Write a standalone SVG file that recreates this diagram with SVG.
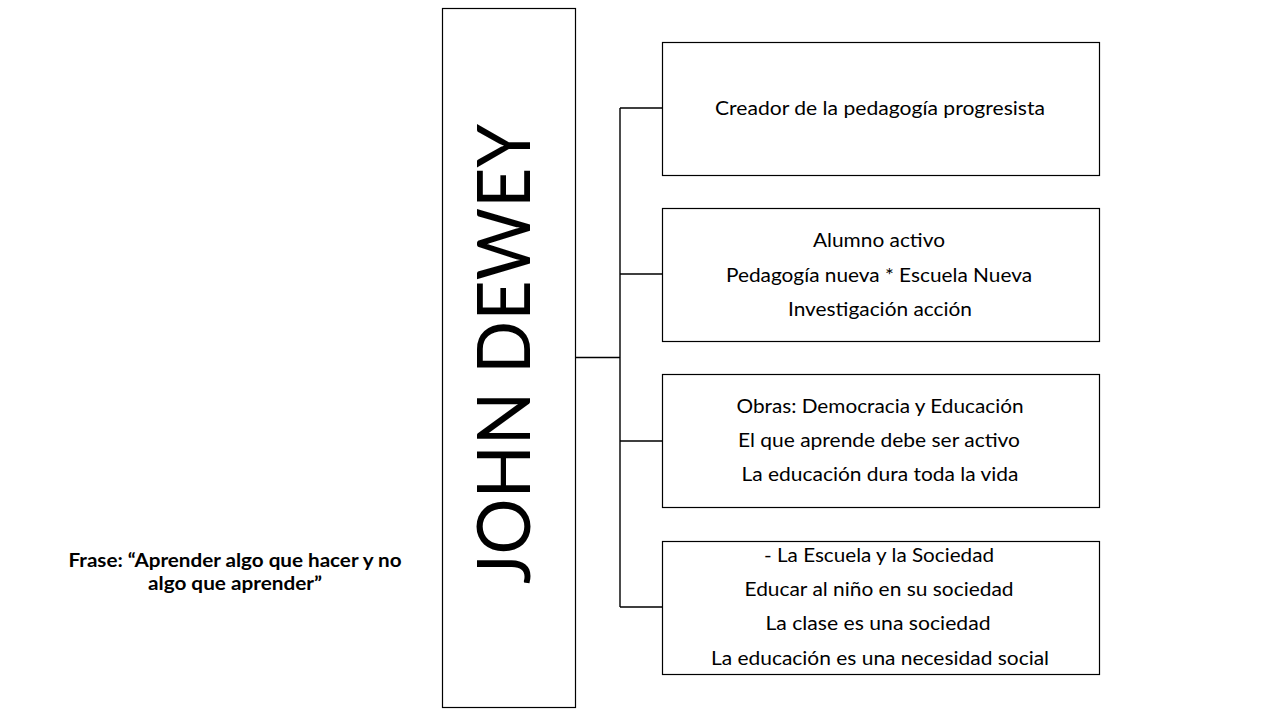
<svg xmlns="http://www.w3.org/2000/svg" width="1280" height="720" viewBox="0 0 1280 720">
<style>
.box{fill:#fff;stroke:#000;stroke-width:1.2}
.t{font-family:Lato,"Open Sans","Liberation Sans",sans-serif;font-size:19.5px;fill:#000;text-anchor:middle}
.b{font-family:Lato,"Open Sans","Liberation Sans",sans-serif;font-size:19px;font-weight:bold;fill:#000;text-anchor:middle}
.c{fill:none;stroke:#000;stroke-width:1.4}
</style>
<rect width="1280" height="720" fill="#fff"/>
<g id="connectors">
<path class="c" d="M576 357.5H620M620 108V607M620 108H662M620 274H662M620 441H662M620 607H662"/>
</g>
<g id="main">
<rect class="box" x="442.5" y="8.5" width="133" height="699"/>
<text transform="translate(530 354) rotate(-90)" x="0" y="0" font-family="Lato,'Open Sans','Liberation Sans',sans-serif" font-size="74" text-anchor="middle" textLength="460" lengthAdjust="spacingAndGlyphs">JOHN DEWEY</text>
</g>
<g id="n1">
<rect class="box" x="662.5" y="42.5" width="437" height="133"/>
<text class="t" x="880" y="115" textLength="330" lengthAdjust="spacingAndGlyphs">Creador de la pedagogía progresista</text>
</g>
<g id="n2">
<rect class="box" x="662.5" y="208.5" width="437" height="133"/>
<text class="t" x="879" y="247" textLength="132" lengthAdjust="spacingAndGlyphs">Alumno activo</text>
<text class="t" x="879" y="282" textLength="306" lengthAdjust="spacingAndGlyphs">Pedagogía nueva * Escuela Nueva</text>
<text class="t" x="880" y="316" textLength="184" lengthAdjust="spacingAndGlyphs">Investigación acción</text>
</g>
<g id="n3">
<rect class="box" x="662.5" y="374.5" width="437" height="133"/>
<text class="t" x="880" y="413" textLength="287" lengthAdjust="spacingAndGlyphs">Obras: Democracia y Educación</text>
<text class="t" x="879" y="447" textLength="282" lengthAdjust="spacingAndGlyphs">El que aprende debe ser activo</text>
<text class="t" x="880" y="481" textLength="277" lengthAdjust="spacingAndGlyphs">La educación dura toda la vida</text>
</g>
<g id="n4">
<rect class="box" x="662.5" y="541.5" width="437" height="133"/>
<text class="t" x="879" y="562" textLength="230" lengthAdjust="spacingAndGlyphs">- La Escuela y la Sociedad</text>
<text class="t" x="879" y="596" textLength="269" lengthAdjust="spacingAndGlyphs">Educar al niño en su sociedad</text>
<text class="t" x="878" y="630" textLength="225" lengthAdjust="spacingAndGlyphs">La clase es una sociedad</text>
<text class="t" x="880" y="665" textLength="338" lengthAdjust="spacingAndGlyphs">La educación es una necesidad social</text>
</g>
<g id="frase">
<text class="b" x="235" y="567" textLength="333" lengthAdjust="spacingAndGlyphs">Frase: “Aprender algo que hacer y no</text>
<text class="b" x="235" y="590" textLength="174" lengthAdjust="spacingAndGlyphs">algo que aprender”</text>
</g>
</svg>
